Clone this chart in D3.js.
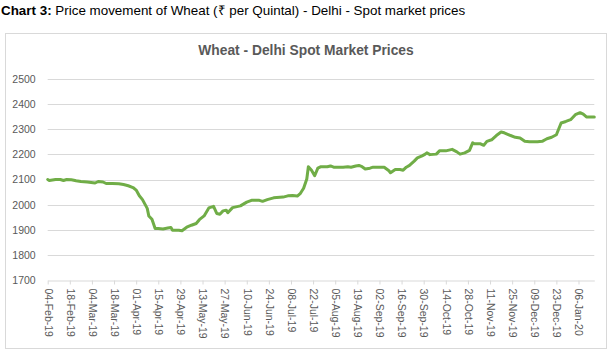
<!DOCTYPE html>
<html>
<head>
<meta charset="utf-8">
<script src="https://cdn.jsdelivr.net/npm/d3@7"></script>
<style>
  html, body { margin: 0; padding: 0; background: #fff; }
  svg { display: block; }
</style>
</head>
<body>
<svg id="chart" width="613" height="355"></svg>
<script>
// ---- data ----
const dates = [
  "2019-02-04","2019-02-05","2019-02-09","2019-02-12","2019-02-14","2019-02-16","2019-02-19","2019-02-22",
  "2019-02-25","2019-03-01","2019-03-06","2019-03-08","2019-03-11","2019-03-13","2019-03-17","2019-03-21",
  "2019-03-24","2019-03-27","2019-03-30","2019-04-01","2019-04-03","2019-04-05","2019-04-08","2019-04-09",
  "2019-04-11","2019-04-13","2019-04-15","2019-04-18","2019-04-21","2019-04-23","2019-04-24","2019-04-28",
  "2019-04-30","2019-05-03","2019-05-06","2019-05-09","2019-05-11","2019-05-14","2019-05-17","2019-05-20",
  "2019-05-22","2019-05-24","2019-05-26","2019-05-28","2019-05-29","2019-06-01","2019-06-06","2019-06-10",
  "2019-06-13","2019-06-18","2019-06-20","2019-06-23","2019-06-27","2019-07-03","2019-07-06","2019-07-09",
  "2019-07-12","2019-07-14","2019-07-16","2019-07-18","2019-07-19","2019-07-21","2019-07-23","2019-07-25",
  "2019-07-27","2019-07-31","2019-08-02","2019-08-04","2019-08-10","2019-08-13","2019-08-15","2019-08-18",
  "2019-08-20","2019-08-22","2019-08-24","2019-08-27","2019-08-29","2019-09-05","2019-09-08","2019-09-09",
  "2019-09-12","2019-09-15","2019-09-17","2019-09-19","2019-09-21","2019-09-24","2019-09-26","2019-09-29",
  "2019-10-01","2019-10-02","2019-10-04","2019-10-08","2019-10-10","2019-10-14","2019-10-18","2019-10-21",
  "2019-10-23","2019-10-26","2019-10-29","2019-10-31","2019-11-01","2019-11-05","2019-11-07","2019-11-09",
  "2019-11-12","2019-11-15","2019-11-18","2019-11-20","2019-11-24","2019-11-27","2019-11-30","2019-12-03",
  "2019-12-06","2019-12-11","2019-12-14","2019-12-17","2019-12-20","2019-12-23","2019-12-26","2019-12-29",
  "2020-01-01","2020-01-04","2020-01-07","2020-01-09","2020-01-11","2020-01-16"
];
const prices = [
  2100,2096,2100,2100,2096,2100,2099,2095,
  2092,2090,2086,2092,2090,2084,2084,2083,
  2080,2075,2068,2058,2035,2020,1985,1955,
  1942,1905,1905,1903,1907,1909,1898,1898,
  1896,1910,1918,1925,1940,1955,1987,1993,
  1965,1962,1975,1978,1968,1988,1995,2010,
  2017,2017,2013,2020,2027,2030,2035,2036,
  2034,2045,2065,2102,2151,2137,2115,2145,
  2151,2151,2154,2149,2149,2151,2149,2154,
  2156,2151,2142,2145,2149,2149,2135,2127,
  2140,2140,2137,2149,2156,2173,2186,2194,
  2201,2206,2199,2201,2214,2214,2220,2210,
  2201,2206,2216,2246,2242,2242,2236,2252,
  2258,2275,2289,2286,2275,2268,2265,2252,
  2250,2250,2252,2262,2268,2278,2325,2331,
  2338,2358,2366,2360,2349,2349
];
const yTicks = [1700, 1800, 1900, 2000, 2100, 2200, 2300, 2400, 2500];
const xTickStart = "2019-02-04";
const xTickEnd = "2020-01-06";
const headingBold = "Chart 3:";
const headingText = " Price movement of Wheat (\u20B9 per Quintal) - Delhi - Spot market prices";
const chartTitle = "Wheat - Delhi Spot Market Prices";

// ---- drawing ----
const parse = d3.timeParse("%Y-%m-%d");
const data = dates.map((d, i) => ({ date: parse(d), value: prices[i] }));

const svg = d3.select("#chart");
const plot = { left: 47.7, right: 594.3, top: 79, bottom: 280 };

const x = d3.scaleTime()
  .domain([parse(dates[0]), parse(dates[dates.length - 1])])
  .range([plot.left, plot.right]);
const y = d3.scaleLinear()
  .domain([1700, 2500])
  .range([plot.bottom, plot.top]);

// heading
const head = svg.append("text")
  .attr("x", 1).attr("y", 15)
  .attr("font-family", "'Liberation Sans', Arial, sans-serif")
  .attr("font-size", 13.4)
  .attr("fill", "#000");
head.append("tspan").attr("font-weight", "bold").text(headingBold);
head.append("tspan").text(headingText);

// frame
svg.append("rect")
  .attr("x", 5.5).attr("y", 33.5)
  .attr("width", 601).attr("height", 315)
  .attr("fill", "#fff")
  .attr("stroke", "#d9d9d9").attr("stroke-width", 1);

// title
svg.append("text")
  .attr("x", 306).attr("y", 55)
  .attr("text-anchor", "middle")
  .attr("font-family", "'Liberation Sans', Arial, sans-serif")
  .attr("font-size", 13.8)
  .attr("font-weight", "bold")
  .attr("fill", "#595959")
  .text(chartTitle);

// gridlines
svg.append("g").selectAll("line")
  .data(yTicks.filter(v => v !== 1700))
  .join("line")
  .attr("x1", plot.left).attr("x2", plot.right)
  .attr("y1", d => Math.round(y(d)) + 0.5).attr("y2", d => Math.round(y(d)) + 0.5)
  .attr("stroke", "#d9d9d9").attr("stroke-width", 1);

// y axis labels
const yAxis = d3.axisLeft(y).tickValues(yTicks).tickSize(0).tickPadding(12).tickFormat(d3.format("d"));
const gy = svg.append("g")
  .attr("transform", `translate(${plot.left},0)`)
  .call(yAxis);
gy.select(".domain").remove();
gy.selectAll("text")
  .attr("font-family", "'Liberation Sans', Arial, sans-serif")
  .attr("font-size", 10.5)
  .attr("fill", "#595959");

// x axis
const xTicks = d3.timeDay.range(parse(xTickStart), d3.timeDay.offset(parse(xTickEnd), 1), 14);
const xAxis = d3.axisBottom(x)
  .tickValues(xTicks)
  .tickSize(4)
  .tickSizeOuter(0)
  .tickFormat(d3.timeFormat("%d-%b-%y"));
const gx = svg.append("g")
  .attr("transform", `translate(0,${Math.round(plot.bottom) + 0.5})`)
  .call(xAxis);
gx.select(".domain").attr("stroke", "#d9d9d9");
gx.selectAll(".tick line").attr("stroke", "#d9d9d9");
gx.selectAll("text")
  .attr("font-family", "'Liberation Sans', Arial, sans-serif")
  .attr("font-size", 10.5)
  .attr("fill", "#595959")
  .attr("text-anchor", "start")
  .attr("dy", "0.35em")
  .attr("transform", "rotate(90)")
  .attr("x", 8)
  .attr("y", 0);

// line
const line = d3.line()
  .x(d => x(d.date))
  .y(d => y(d.value))
  .curve(d3.curveLinear);
svg.append("path")
  .datum(data)
  .attr("d", line)
  .attr("fill", "none")
  .attr("stroke", "#70ad47")
  .attr("stroke-width", 3)
  .attr("stroke-linejoin", "round")
  .attr("stroke-linecap", "round");
</script>
</body>
</html>
